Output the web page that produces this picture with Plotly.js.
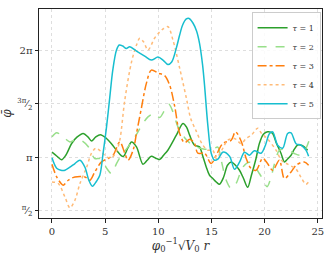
<!DOCTYPE html>
<html><head><meta charset="utf-8">
<script src="https://cdn.plot.ly/plotly-3.0.1.min.js"></script>
<style>html,body{margin:0;padding:0;background:#fff}#c{width:332px;height:257px}</style>
</head><body><div id="c"></div>
<script>
const x1 = [0,0.47,0.9,1.3,1.85,2.35,2.94,3.4,3.72,4.1,4.55,5.13,5.63,6.07,6.69,7.13,7.48,7.95,8.56,8.96,9.35,9.76,10.13,10.5,10.9,11.7,12.32,12.66,12.95,13.41,13.88,14.16,14.51,14.82,15.13,15.48,15.76,16.14,16.51,16.86,17.26,17.64,18.01,18.41,18.76,19.2,19.51,19.89,20.29,20.73,21.11,21.55,21.86,22.14,22.49,22.8,23.1,23.45,23.73,24.05];
const y1 = [3.287,3.168,3.065,3.198,3.544,3.731,3.840,3.731,3.621,3.731,3.805,3.692,3.524,3.346,3.160,3.405,3.591,3.444,2.932,3.050,3.168,3.109,3.071,3.198,3.346,3.790,4.136,4.026,3.790,3.494,3.444,3.198,2.852,2.606,2.509,2.399,2.340,2.547,2.902,3.000,2.902,2.754,2.518,2.251,2.606,3.109,3.544,3.819,3.893,3.849,3.553,3.249,3.000,3.080,3.198,3.376,3.494,3.494,3.444,3.346];

const x2 = [0,0.44,0.84,1.22,1.69,2.32,2.81,3.38,4.03,4.5,4.88,5.16,5.6,6.07,6.54,7.16,7.79,8.41,9.03,9.66,10.13,10.6,10.98,11.38,11.85,12.48,12.95,13.57,14.35,14.82,15.29,15.6,15.92,16.39,16.86,17.33,17.95,18.57,19.04,19.51,19.89,20.23,20.61,20.92,21.39,21.76,22.17,22.8,23.42,23.89,24.2];
const y2 = [3.740,3.864,3.790,3.692,3.591,3.663,3.627,3.464,3.100,3.100,2.961,2.805,2.657,2.952,3.198,3.444,3.731,4.056,4.331,4.432,4.313,4.529,4.707,4.479,4.035,3.716,3.562,3.444,3.376,3.376,3.405,3.435,3.050,2.458,2.213,2.370,2.843,2.991,2.873,2.657,2.458,2.266,2.547,2.932,3.346,3.376,3.367,3.249,3.198,3.396,3.642];

const x3 = [0,0.44,0.84,1.06,1.53,2.16,3.1,3.56,4.03,4.66,5.28,5.75,6.38,6.85,7.16,7.63,7.95,8.41,8.88,9.35,9.97,10.6,11.07,11.54,12.01,12.48,12.95,13.41,13.72,14.35,14.98,15.45,16.07,16.86,17.26,17.8,18.26,18.73,19.2,19.82,20.26,20.76,21.39,21.86,22.49,22.96,23.73,24.14];
const y3 = [2.932,2.556,2.370,2.311,2.458,2.556,2.556,2.458,2.704,3.000,3.100,3.198,3.591,3.257,3.050,3.346,3.840,4.589,5.319,5.713,5.624,5.550,5.269,4.648,3.840,3.568,3.671,3.544,3.257,3.257,2.952,3.198,3.544,3.642,3.887,3.612,3.109,2.805,2.754,3.109,2.961,2.754,3.050,2.509,2.704,2.902,3.000,2.902];

const x4 = [0,0.59,1.22,1.69,2.16,2.63,3.26,3.72,4.13,4.66,5.13,5.6,6.07,6.38,6.85,7.48,7.95,8.26,8.63,9.03,9.66,10.13,10.51,10.91,11.38,12.01,12.64,13.04,13.57,14.19,14.66,15.13,15.45,15.92,16.54,17.17,17.8,18.26,18.76,19.35,19.7,20.29,21.08,21.58,22.17,22.96,23.42,23.89,24.11];
const y4 = [2.408,2.361,1.964,1.645,1.867,2.361,2.843,3.257,3.405,3.296,3.148,3.124,3.317,3.642,4.825,5.950,6.453,6.651,6.541,6.305,6.660,6.837,6.941,6.994,6.601,5.772,4.885,4.293,3.908,3.494,3.346,3.346,3.109,3.317,3.642,3.692,3.544,3.692,3.790,3.997,3.849,3.671,3.346,3.050,2.932,2.784,2.547,2.340,2.399];

const x5 = [0,0.44,0.84,1.22,1.69,2.16,2.63,3.1,3.47,3.8,4.19,4.5,4.81,5.13,5.44,5.72,6.07,6.33,6.66,6.99,7.32,7.95,8.72,9.35,9.97,10.44,10.91,11.26,11.7,12.01,12.29,12.64,12.9,13.26,13.6,13.88,14.17,14.35,14.66,14.98,15.29,15.6,16.07,16.7,17.17,17.64,18.11,18.57,19.04,19.67,20.08,20.45,20.76,21.23,21.7,22.17,22.49,22.96,23.42,23.89,24.14];
const y5 = [3.124,2.814,2.754,2.754,2.843,2.952,3.050,2.843,2.458,2.281,2.429,2.606,3.257,4.026,4.914,5.713,6.305,6.453,6.423,6.349,6.402,6.275,6.127,6.009,6.097,6.009,5.876,5.950,6.364,6.748,7.044,7.222,7.236,7.103,6.867,6.503,5.861,5.269,4.086,3.257,3.050,3.080,3.287,3.168,2.784,2.991,3.287,3.198,3.331,3.257,3.494,3.834,3.887,3.494,3.405,3.840,3.858,3.538,3.494,3.346,3.168];

const names = ['<i>τ</i> = 1','<i>τ</i> = 2','<i>τ</i> = 3','<i>τ</i> = 4','<i>τ</i> = 5'];
const colors = ['#2ca02c','#98df8a','#ff7f0e','#ffbb78','#17becf'];
const dashes = ['solid','dash','dashdot','dot','solid'];
const xs = [x1,x2,x3,x4,x5], ys = [y1,y2,y3,y4,y5];
const tickVals = [Math.PI/2, Math.PI, 3*Math.PI/2, 2*Math.PI];
const tickText = ['<sup>π</sup>⁄<sub>2</sub>','π','<sup>3π</sup>⁄<sub>2</sub>','2π'];

const traces = names.map((n,i)=>({
  x: xs[i], y: ys[i], name: n, type:'scatter', mode:'lines',
  line:{color:colors[i], width:1.5, dash:dashes[i], shape:'spline', smoothing:0.9}
}));

const layout = {
  width:332, height:257,
  margin:{l:39, r:10, t:9, b:39},
  paper_bgcolor:'#fff', plot_bgcolor:'#fff',
  font:{family:'DejaVu Serif, Liberation Serif, serif', size:10, color:'#333'},
  showlegend:true,
  legend:{x:0.995, y:0.985, xanchor:'right', yanchor:'top', bgcolor:'rgba(255,255,255,0.85)',
    bordercolor:'#cccccc', borderwidth:1, font:{size:8}, tracegroupgap:0, itemwidth:30},
  xaxis:{range:[-1.22,25.4], tickvals:[0,5,10,15,20,25], ticktext:['0','5','10','15','20','25'],
    showgrid:true, gridcolor:'#d0d0d0', griddash:'dot', gridwidth:0.7, zeroline:false,
    showline:true, linecolor:'#222', linewidth:1, mirror:true, ticks:'outside', ticklen:3.5, tickcolor:'#222',
    title:{text:'<i>φ</i><sub>0</sub><sup>−1</sup>√<i>V</i><sub>0</sub> <i>r</i>', font:{size:12}, standoff:2}},
  yaxis:{range:[1.343,7.517], tickvals:tickVals, ticktext:tickText,
    showgrid:true, gridcolor:'#d0d0d0', griddash:'dot', gridwidth:0.7, zeroline:false,
    showline:true, linecolor:'#222', linewidth:1, mirror:true, ticks:'outside', ticklen:3.5, tickcolor:'#222',
    title:{text:'<i>φ̄</i>', font:{size:12}, standoff:6}}
};
Plotly.newPlot('c', traces, layout, {staticPlot:true, displayModeBar:false});
</script></body></html>
